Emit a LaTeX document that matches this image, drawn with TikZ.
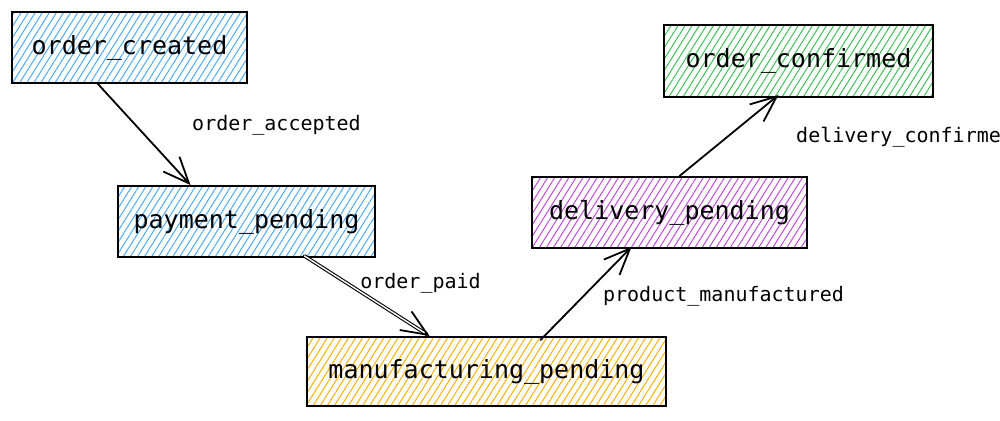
\documentclass[tikz,border=0pt]{standalone}
\usepackage{fontspec}
\newfontfamily\diagmono{DejaVu Sans Mono}
\usetikzlibrary{arrows.meta,patterns.meta}
\definecolor{hblue}{HTML}{4DABF7}
\definecolor{horange}{HTML}{FAB005}
\definecolor{hpurple}{HTML}{BE4BDB}
\definecolor{hgreen}{HTML}{40C057}
\tikzset{
  statebox/.style={draw=black, line width=2pt, rectangle, inner sep=0pt,
    minimum height=71pt, font=\diagmono\fontsize{25}{30}\selectfont,
    pattern={Lines[angle=58,distance=6pt,line width=1pt]}},
  hatchblue/.style={pattern color=hblue},
  hatchorange/.style={pattern color=horange},
  hatchpurple/.style={pattern color=hpurple},
  hatchgreen/.style={pattern color=hgreen},
  trans/.style={draw=black, line width=1.8pt, line cap=round,
    -{Straight Barb[length=26pt,width=22pt,line width=1.8pt]}},
  dbltrans/.style={trans, double=white, double distance=1.4pt, line width=1.1pt},
  edgelabel/.style={font=\diagmono\fontsize{20}{24}\selectfont, inner sep=0pt}
}
\begin{document}
\begin{tikzpicture}[x=1pt,y=-1pt]
\useasboundingbox (0,0) rectangle (1000,420);
\fill[white] (0,0) rectangle (1000,420);
\clip (0,0) rectangle (1000,420);

\node[statebox, hatchblue, minimum width=235pt] (ocr) at (129.5,47.5) {order\_created};
\node[statebox, hatchblue, minimum width=257pt] (pp) at (246.5,221.5) {payment\_pending};
\node[statebox, hatchorange, minimum width=359pt, minimum height=69pt] (mp) at (486.5,371.5) {manufacturing\_pending};
\node[statebox, hatchpurple, minimum width=275pt] (dp) at (669.5,212.5) {delivery\_pending};
\node[statebox, hatchgreen, minimum width=269pt, minimum height=72pt] (ocf) at (798.5,61) {order\_confirmed};

\draw[trans] ([xshift=-32pt]ocr.south) -- ([xshift=-56pt]pp.north);
\draw[dbltrans] ([xshift=58pt,yshift=2pt]pp.south) -- ([xshift=-57pt]mp.north);
\draw[trans] ([xshift=54pt,yshift=-4pt]mp.north) -- ([xshift=-38pt,yshift=2pt]dp.south);
\draw[trans] ([xshift=10pt]dp.north) -- ([xshift=-20pt,yshift=3pt]ocf.south);

\node[edgelabel] (l1) at (276.5,125) {order\_accepted};
\node[edgelabel] (l2) at (420.5,283) {order\_paid};
\node[edgelabel] (l3) at (723.5,296) {product\_manufactured};
\node[edgelabel, anchor=west] (l4) at (796,137) {delivery\_confirmed};
\end{tikzpicture}
\end{document}
